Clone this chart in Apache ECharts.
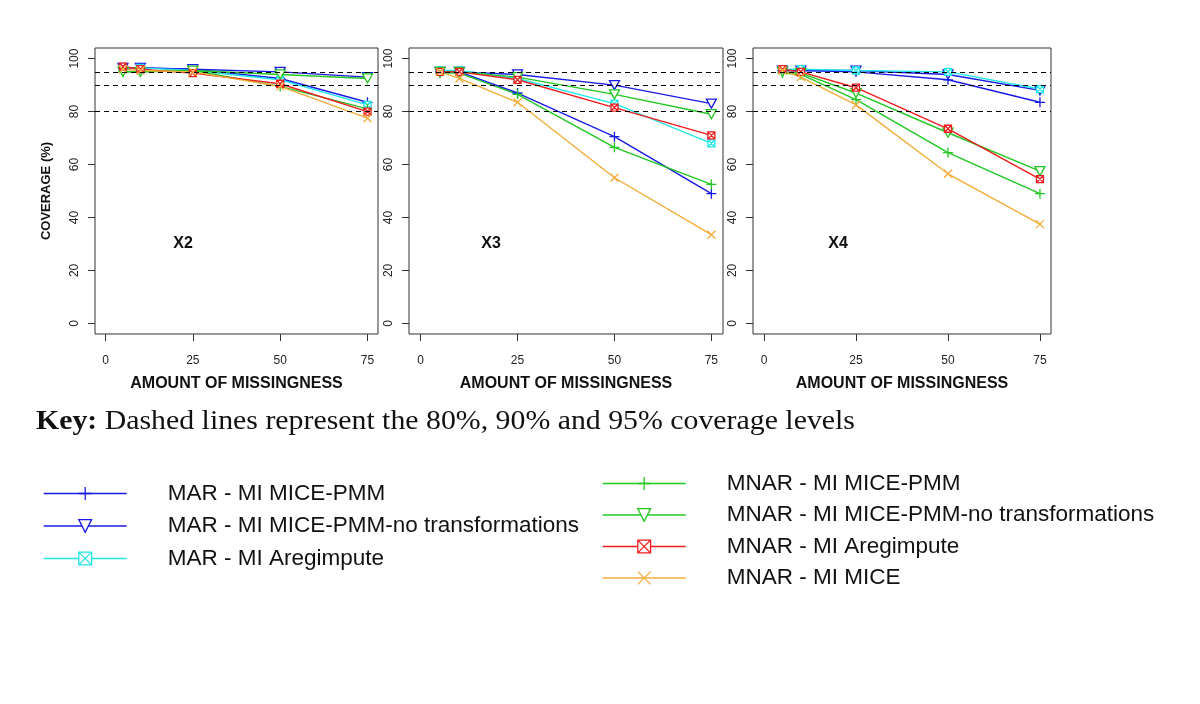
<!DOCTYPE html>
<html>
<head>
<meta charset="utf-8">
<title>Coverage by amount of missingness</title>
<script src="https://cdn.jsdelivr.net/npm/echarts@6/dist/echarts.min.js"></script>
<style>
  html, body { margin: 0; padding: 0; background: #fff; }
  #main { width: 1200px; height: 704px; }
</style>
</head>
<body>
<div id="main"></div>
<script>
// amount of missingness (%) on the x axis
const missing = [5, 10, 25, 50, 75];
const xTicks = [0, 25, 50, 75];
const yTicks = [0, 20, 40, 60, 80, 100];
const refLevels = [80, 90, 95];
const panelNames = ['X2', 'X3', 'X4'];

const seriesNames = [
    'MAR - MI MICE-PMM',
    'MAR - MI MICE-PMM-no transformations',
    'MAR - MI Aregimpute',
    'MNAR - MI MICE-PMM',
    'MNAR - MI MICE-PMM-no transformations',
    'MNAR - MI Aregimpute',
    'MNAR - MI MICE'
];

// coverage (%) per panel, rows in the same order as seriesNames
const covX2 = [
    [96.5, 96.5, 96, 92.5, 83.5],
    [96.5, 96.5, 96, 95, 93],
    [96.5, 96.5, 95.5, 92, 82.5],
    [95, 95, 95.5, 89.5, 81],
    [95, 95, 95.5, 94, 92.5],
    [97, 96, 94.5, 90.5, 80],
    [96, 95.5, 95, 89.5, 77.5]
];
const covX3 = [
    [95, 95, 87, 70.5, 49],
    [95, 95, 94, 90, 83],
    [95.5, 95.5, 92.5, 83, 68],
    [94.5, 94.5, 86.5, 66.5, 52.5],
    [95, 95, 93, 86.5, 79],
    [95, 95, 92, 81.5, 71],
    [95, 92.5, 83.5, 55, 33.5]
];
const covX4 = [
    [95.5, 95.5, 95, 92, 83.5],
    [95.5, 95.5, 95.5, 94, 88],
    [96, 96, 95.5, 95, 88.5],
    [94.5, 94, 84.5, 64.5, 49],
    [95, 94.5, 87, 72, 57.5],
    [96, 95, 89, 73.5, 54.5],
    [95.5, 93, 82.5, 56.5, 37.5]
];

const colors = ['#1a1ae8', '#1a1ae8', '#22e6e6', '#22c722', '#22c722', '#ee1c1c', '#f2ac3a'];
const PLUS = 'path://M5,0L5,10M0,5L10,5';
const TRI = 'path://M0,0L10,0L5,9Z';
const BOXX = 'path://M0,0L10,0L10,10L0,10ZM0,0L10,10M10,0L0,10';
const CROSS = 'path://M0,0L10,10M10,0L0,10';
const symbols = [PLUS, TRI, BOXX, PLUS, TRI, BOXX, CROSS];
const symbolSizes = [10, [10, 9], 7, 10, [10, 9], 7, 8];

const panels = [covX2, covX3, covX4];
const grids = [
    { left: 95, top: 48, width: 283, height: 286 },
    { left: 409, top: 48, width: 314, height: 286 },
    { left: 753, top: 48, width: 298, height: 286 }
];
const labelPos = [[183, 244], [491, 244], [838, 244]];

const tickFont = { color: '#222', fontSize: 12, fontFamily: 'Liberation Sans' };

let mychart = echarts.init(document.getElementById('main'));

let series = [];
panels.forEach((rows, p) => {
    rows.forEach((vals, s) => {
        let item = {
            name: seriesNames[s],
            type: 'line',
            xAxisIndex: p,
            yAxisIndex: p,
            data: missing.map((m, i) => [m, vals[i]]),
            symbol: symbols[s],
            symbolSize: symbolSizes[s],
            lineStyle: { color: colors[s], width: 1.4 },
            itemStyle: { color: '#fff', borderColor: colors[s], borderWidth: 1.3 },
            emphasis: { disabled: true },
            z: 3
        };
        if (s === 0) {
            item.markLine = {
                silent: true,
                symbol: ['none', 'none'],
                label: { show: false },
                lineStyle: { color: '#000', type: [5, 4], width: 1.2 },
                data: refLevels.map(v => ({ yAxis: v })),
                z: 4
            };
        }
        series.push(item);
    });
});

const legendItem = (i) => ({
    name: seriesNames[i],
    itemStyle: { color: '#fff', borderColor: colors[i], borderWidth: 1.3 },
    lineStyle: { color: colors[i], width: 1.4 }
});

const legendText = { fontSize: 22.5, color: '#111', fontFamily: 'Liberation Sans', padding: [0, 0, 0, 36] };

let option = {
    animation: false,
    backgroundColor: '#fff',
    grid: grids.map(g => Object.assign({ show: true, borderColor: '#333', borderWidth: 1 }, g)),
    xAxis: grids.map((g, p) => ({
        type: 'value',
        gridIndex: p,
        min: -3,
        max: 78,
        name: 'AMOUNT OF MISSINGNESS',
        nameLocation: 'middle',
        nameGap: 42,
        nameTextStyle: { color: '#111', fontSize: 16, fontWeight: 'bold', fontFamily: 'Liberation Sans' },
        axisLine: { show: false, onZero: false },
        axisTick: { show: true, inside: false, length: 7, customValues: xTicks, lineStyle: { color: '#333' } },
        axisLabel: Object.assign({ margin: 21, customValues: xTicks }, tickFont),
        splitLine: { show: false }
    })),
    yAxis: grids.map((g, p) => ({
        type: 'value',
        gridIndex: p,
        min: -4,
        max: 104,
        name: p === 0 ? 'COVERAGE (%)' : '',
        nameLocation: 'middle',
        nameGap: 42,
        nameTextStyle: { color: '#111', fontSize: 13, fontWeight: 'bold', fontFamily: 'Liberation Sans' },
        axisLine: { show: false, onZero: false },
        axisTick: { show: true, inside: false, length: 7, customValues: yTicks, lineStyle: { color: '#333' } },
        axisLabel: Object.assign({ margin: 14, rotate: 90, customValues: yTicks }, tickFont),
        splitLine: { show: false }
    })),
    legend: [
        {
            orient: 'vertical',
            left: 38,
            top: 477,
            itemWidth: 83,
            itemHeight: 16,
            itemGap: 9.5,
            selectedMode: false,
            textStyle: legendText,
            data: [0, 1, 2].map(legendItem)
        },
        {
            orient: 'vertical',
            left: 597,
            top: 467,
            itemWidth: 83,
            itemHeight: 16,
            itemGap: 8.5,
            selectedMode: false,
            textStyle: legendText,
            data: [3, 4, 5, 6].map(legendItem)
        }
    ],
    graphic: panelNames.map((t, p) => ({
        type: 'text',
        x: labelPos[p][0],
        y: labelPos[p][1],
        silent: true,
        style: {
            text: t,
            align: 'center',
            verticalAlign: 'middle',
            fill: '#111',
            font: 'bold 16px "Liberation Sans"'
        }
    })).concat([{
        type: 'text',
        x: 36,
        y: 422,
        scaleX: 1.065,
        silent: true,
        style: {
            text: '{b|Key:} Dashed lines represent the 80%, 90% and 95% coverage levels',
            verticalAlign: 'middle',
            fill: '#111',
            font: '28px "Liberation Serif"',
            rich: {
                b: { fontWeight: 'bold', fontSize: 28, fontFamily: 'Liberation Serif', fill: '#111' }
            }
        }
    }]),
    series: series
};

mychart.setOption(option);
window.addEventListener('resize', () => {
    mychart.resize();
});
</script>
</body>
</html>
